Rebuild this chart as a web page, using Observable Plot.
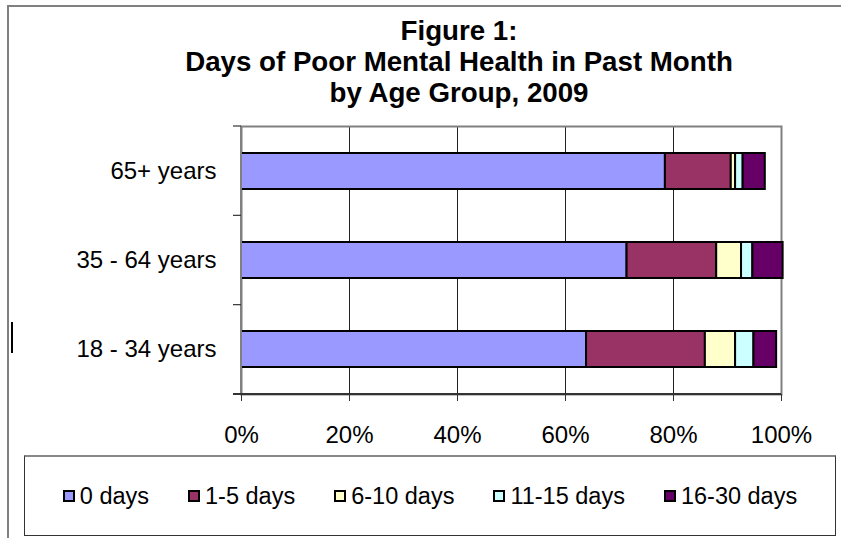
<!DOCTYPE html>
<html><head><meta charset="utf-8">
<script src="https://cdn.jsdelivr.net/npm/d3@7"></script>
<script src="https://cdn.jsdelivr.net/npm/@observablehq/plot@0.6"></script>
<style>
body{margin:0;background:#fff;font-family:Arial,"Liberation Sans",sans-serif;}
#wrap{position:relative;width:841px;height:538px;overflow:hidden;background:#fff;}
#frame{position:absolute;left:7px;top:5px;width:900px;height:600px;border-left:2px solid #808080;border-top:2px solid #808080;}
#chart{position:absolute;left:0;top:0;}
#title{position:absolute;left:59px;width:800px;top:15px;text-align:center;font-weight:bold;font-size:27.7px;line-height:31px;color:#000;}
#legend{position:absolute;left:24px;top:455px;width:812px;height:81px;box-sizing:border-box;border:1px solid #333;border-top:2px solid #888;display:flex;align-items:center;justify-content:center;gap:39px;font-size:23.5px;color:#000;}
.item{display:flex;align-items:center;}
.sw{width:12px;height:12px;box-sizing:border-box;border:2px solid #000;margin-right:5px;}
#cursor{position:absolute;left:11px;top:322px;width:2px;height:31px;background:#000;}
</style></head><body>
<div id="wrap">
 <div id="frame"></div>
 <div id="chart"></div>
 <div id="title"></div>
 <div id="legend"></div>
 <div id="cursor"></div>
</div>
<script>
const titleLines = ["Figure 1:", "Days of Poor Mental Health in Past Month", "by Age Group, 2009"];
const ageGroups = ["65+ years", "35 - 64 years", "18 - 34 years"];
const dayCategories = ["0 days", "1-5 days", "6-10 days", "11-15 days", "16-30 days"];
const colors = ["#9999FF", "#993366", "#FFFFCC", "#CCFFFF", "#660066"];
const xTicks = [0, 20, 40, 60, 80, 100];
// percent of respondents, per age group (same order as ageGroups)
const days0 = [78.5, 71.4, 63.9];
const days1to5 = [12.2, 16.6, 22.0];
const days6to10 = [0.8, 4.6, 5.6];
const days11to15 = [1.4, 2.1, 3.4];
const days16to30 = [4.1, 5.6, 4.2];

const series = [days0, days1to5, days6to10, days11to15, days16to30];
const rows = [];
dayCategories.forEach((cat, i) => {
  ageGroups.forEach((age, j) => rows.push({age, cat, value: series[i][j]}));
});

document.getElementById("title").innerHTML = titleLines.join("<br>");

function axisLines(index, scales, values, dims) {
  const {width, height, marginLeft, marginRight, marginTop, marginBottom} = dims;
  const g = d3.create("svg:g");
  const n = ageGroups.length;
  const step = (height - marginTop - marginBottom) / n;
  g.append("line").attr("x1", marginLeft).attr("x2", marginLeft)
    .attr("y1", marginTop).attr("y2", height - marginBottom)
    .attr("stroke", "#808080").attr("stroke-width", 2);
  for (let k = 0; k <= n; k++) {
    const yy = marginTop + k * step;
    g.append("line").attr("x1", marginLeft - 8).attr("x2", marginLeft)
      .attr("y1", yy).attr("y2", yy).attr("stroke", "#333").attr("stroke-width", 1.2);
  }
  g.append("line").attr("x1", marginLeft - 8).attr("x2", width - marginRight)
    .attr("y1", height - marginBottom).attr("y2", height - marginBottom)
    .attr("stroke", "#333").attr("stroke-width", 2);
  return g.node();
}

const chart = Plot.plot({
  width: 841,
  height: 455,
  marginTop: 126,
  marginBottom: 61,
  marginLeft: 241,
  marginRight: 60,
  style: {fontFamily: "Arial, 'Liberation Sans', sans-serif", fontSize: "24px", color: "#000", background: "transparent", overflow: "visible"},
  x: {domain: [0, 100], label: null},
  y: {domain: ageGroups, paddingInner: 0.6, paddingOuter: 0.3, label: null},
  color: {domain: dayCategories, range: colors},
  marks: [
    Plot.gridX(xTicks, {stroke: "#222", strokeOpacity: 1, strokeWidth: 1}),
    Plot.frame({stroke: "#808080", strokeWidth: 2}),
    Plot.barX(rows, Plot.stackX({x: "value", y: "age", fill: "cat", stroke: "#000", strokeWidth: 2})),
    Plot.axisX({ticks: xTicks, tickFormat: d => d + "%", tickSize: 7, tickPadding: 24, fontSize: 24, stroke: "#333", label: null}),
    Plot.axisY({tickSize: 0, tickPadding: 25, fontSize: 24, label: null}),
    axisLines
  ]
});
document.getElementById("chart").appendChild(chart);

const legend = document.getElementById("legend");
dayCategories.forEach((cat, i) => {
  const item = document.createElement("div");
  item.className = "item";
  const sw = document.createElement("div");
  sw.className = "sw";
  sw.style.background = colors[i];
  const t = document.createElement("span");
  t.textContent = cat;
  item.appendChild(sw);
  item.appendChild(t);
  legend.appendChild(item);
});
</script>
</body></html>
